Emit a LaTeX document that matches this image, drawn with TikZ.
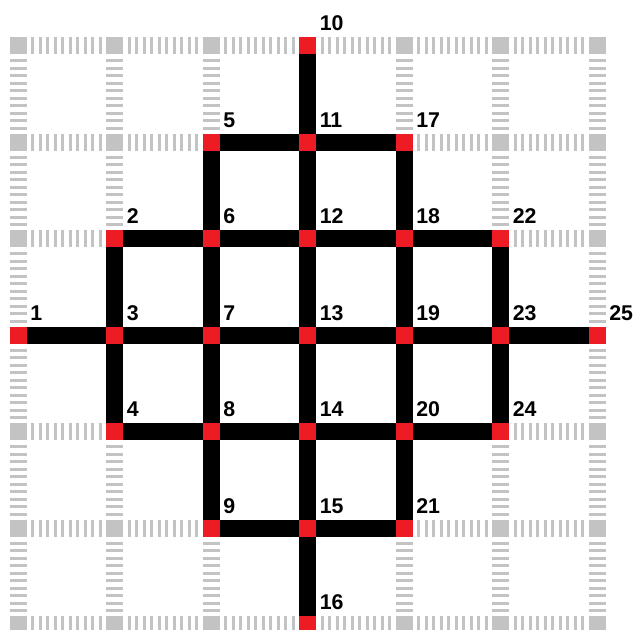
\documentclass[tikz,border=0pt]{standalone}
\usepackage{fontspec}
\setmainfont{Liberation Sans}
\definecolor{gridgray}{RGB}{195,195,195}
\definecolor{nodered}{RGB}{237,28,36}
\begin{document}
\begin{tikzpicture}[x=0.75pt,y=-0.75pt,
  gsq/.style={rectangle,fill=gridgray,minimum size=12.75pt,inner sep=0pt,outer sep=0pt},
  rsq/.style={rectangle,fill=nodered,minimum size=12.75pt,inner sep=0pt,outer sep=0pt},
  gline/.style={draw=gridgray,line width=12.75pt,dash pattern=on 2.25pt off 3.4pt,dash phase=2.25pt},
  bline/.style={draw=black,line width=12.75pt},
  lbl/.style={anchor=base west,inner sep=0pt,font=\bfseries\fontsize{16}{18}\selectfont}]
\useasboundingbox (0,0) rectangle (640,630);
% grid squares
\foreach \c in {0,...,6}
  \foreach \r in {0,...,6}
    \node[gsq] (g-\c-\r) at ({18+96.5*\c},{46+96.5*\r}) {};
% gray dashed grid lines
\foreach \c in {0,...,6} {
  \foreach \r in {0,...,5} {
    \pgfmathtruncatemacro{\rn}{\r+1}
    \draw[gline] (g-\c-\r) -- (g-\c-\rn);
    \draw[gline] (g-\r-\c) -- (g-\rn-\c);
  }
}
% red nodes
\foreach \n/\c/\r in {1/0/3,2/1/2,3/1/3,4/1/4,5/2/1,6/2/2,7/2/3,8/2/4,9/2/5,
  10/3/0,11/3/1,12/3/2,13/3/3,14/3/4,15/3/5,16/3/6,
  17/4/1,18/4/2,19/4/3,20/4/4,21/4/5,22/5/2,23/5/3,24/5/4,25/6/3} {
  \node[rsq] (n\n) at (g-\c-\r) {};
  \node[lbl] (t\n) at ([shift={(12,-15)}]n\n.center) {\n};
}
% black edges
\foreach \a/\b in {5/11,11/17,2/6,6/12,12/18,18/22,1/3,3/7,7/13,13/19,19/23,23/25,
  4/8,8/14,14/20,20/24,9/15,15/21,
  2/3,3/4,5/6,6/7,7/8,8/9,10/11,11/12,12/13,13/14,14/15,15/16,
  17/18,18/19,19/20,20/21,22/23,23/24}
  \draw[bline] (n\a) -- (n\b);
\end{tikzpicture}
\end{document}
